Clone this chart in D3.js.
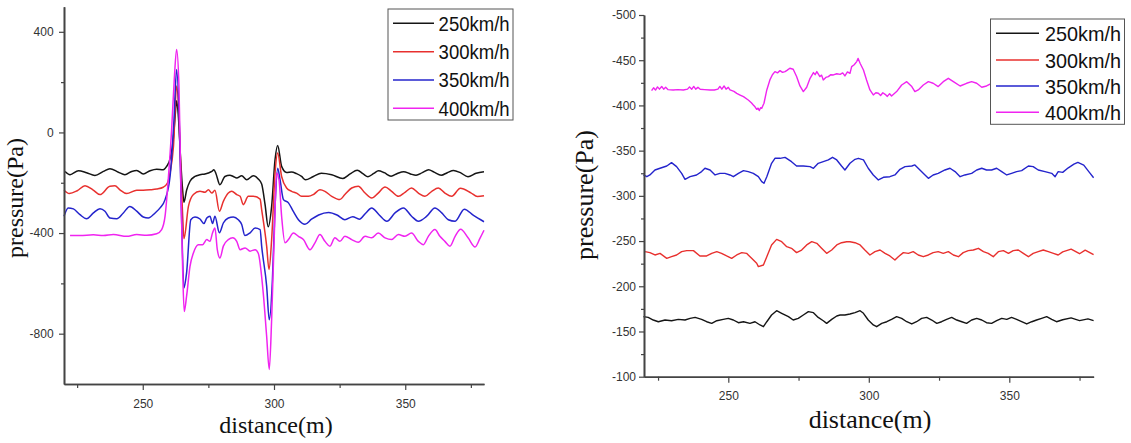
<!DOCTYPE html>
<html><head><meta charset="utf-8">
<script src="https://cdn.jsdelivr.net/npm/d3@7"></script>
<style>
html,body{margin:0;padding:0;background:#fff;}
svg{display:block;}
.tick text{font-family:"Liberation Sans",Arial,sans-serif;font-size:12px;fill:#333;}
</style></head><body>
<svg id="c" width="1131" height="443"></svg>
<script>
// ---------- shared ticks / labels ----------
const seriesNames = ["250km/h", "300km/h", "350km/h", "400km/h"];
const xMajorTicks = [250, 300, 350];
const xMinorTicks = [225, 275, 325, 375];
const leftYMajorTicks = [400, 0, -400, -800];
const leftYMinorTicks = [200, -200, -600];
const rightYMajorTicks = [-500, -450, -400, -350, -300, -250, -200, -150, -100];
const rightYMinorTicks = [-475, -425, -375, -325, -275, -225, -175, -125];
const xLabel = "distance(m)";
const yLabel = "pressure(Pa)";

// ---------- left chart data: [distance, pressure] ----------
const left250 = [[220.4,-155],[222.3,-168],[225.5,-152],[228.6,-160],[231.8,-171],[235.0,-155],[237.5,-144],[240.7,-158],[243.2,-168],[245.8,-155],[247.7,-151],[250.2,-165],[252.8,-152],[255.3,-146],[257.8,-148],[259.1,-135],[260.4,-105],[261.7,-20],[262.3,60],[262.9,126],[263.6,60],[264.4,-100],[265.2,-230],[265.7,-278],[266.7,-230],[268.0,-194],[269.9,-175],[271.8,-168],[273.7,-165],[275.0,-161],[276.3,-155],[277.1,-148],[277.9,-164],[279.4,-208],[281.3,-175],[283.2,-170],[284.5,-175],[285.8,-181],[287.7,-172],[289.6,-188],[292.1,-172],[294.0,-185],[295.3,-205],[296.6,-287],[297.8,-375],[299.1,-294],[300.4,-108],[301.4,-52],[302.9,-135],[304.8,-159],[306.7,-157],[308.6,-164],[310.5,-175],[312.0,-188],[315.0,-175],[318.0,-162],[322.0,-168],[326.2,-183],[329.0,-165],[331.7,-150],[334.0,-165],[335.8,-176],[338.0,-163],[339.8,-152],[342.0,-160],[344.6,-174],[347.0,-163],[349.4,-156],[352.0,-165],[354.1,-170],[356.5,-160],[358.9,-148],[361.0,-158],[363.7,-170],[366.0,-160],[368.4,-151],[371.0,-160],[373.9,-176],[377.0,-162],[380.0,-156]];
const left300 = [[220,-230],[222,-243],[225,-232],[228,-212],[231,-228],[233.7,-247],[237.5,-214],[239.4,-212],[241.3,-228],[243.9,-243],[247.7,-230],[250.2,-230],[253,-228],[255.3,-225],[257.8,-218],[259.4,-201],[260.4,-161],[261.7,-56],[262.9,185],[263.8,60],[264.5,-150],[265.2,-330],[265.7,-422],[267.4,-294],[269.3,-247],[271.8,-234],[273.7,-238],[275,-228],[276.3,-241],[277.5,-230],[279.2,-313],[280.7,-274],[282.6,-241],[283.9,-234],[285.8,-247],[287.1,-254],[288.3,-287],[290.2,-254],[292.1,-254],[294.7,-265],[295.3,-307],[297.2,-452],[298.1,-545],[299.1,-426],[300.4,-161],[301.4,-82],[302.9,-175],[304.8,-221],[306.7,-234],[308.6,-241],[310.5,-254],[313.1,-254],[315,-247],[317.5,-228],[319.4,-234],[322,-254],[325.1,-267],[327,-247],[329.6,-221],[332.1,-214],[334.7,-241],[337.2,-261],[339.7,-241],[342.3,-217],[344.8,-234],[347.4,-254],[349.9,-238],[352.4,-221],[355,-241],[357.5,-254],[360.1,-234],[362.6,-221],[365.1,-241],[367.7,-254],[371,-222],[375,-240],[377.5,-255],[380,-252]];
const left350 = [[220,-333],[221.6,-300],[223.6,-304],[226.1,-327],[228.6,-343],[231.2,-320],[233.7,-303],[235.6,-313],[237.5,-340],[240.1,-343],[242.6,-320],[245.1,-294],[247.7,-313],[250.2,-336],[252.1,-340],[254.7,-320],[256.6,-300],[258.5,-267],[260.4,-175],[261.9,50],[262.9,250],[263.9,50],[264.8,-347],[265.7,-618],[266.7,-558],[268.3,-347],[269.9,-336],[271.8,-344],[273.3,-362],[274.4,-340],[275.6,-333],[276.6,-362],[277.5,-333],[279.2,-399],[280.7,-360],[282.6,-340],[284.5,-336],[286.4,-347],[287.7,-366],[288.9,-410],[290.9,-399],[292.8,-380],[294.7,-386],[295.3,-452],[297.2,-611],[298.2,-745],[299.4,-585],[300.4,-294],[301.4,-142],[302.3,-188],[303.6,-267],[305.5,-280],[307.3,-313],[309.3,-347],[311.8,-365],[314.3,-345],[317,-328],[320.8,-318],[324,-328],[327,-347],[330,-335],[332.5,-345],[335,-320],[337.2,-300],[340,-327],[343,-353],[346.1,-320],[349.3,-300],[352.4,-333],[355,-353],[358.2,-333],[361.3,-300],[363.9,-320],[366.4,-347],[369,-353],[372.5,-305],[376,-330],[380,-355]];
const left400 = [[222.3,-410],[226.1,-410],[231.2,-407],[235,-410],[238.8,-406],[243.9,-413],[247.7,-406],[251.5,-409],[255.3,-403],[257.2,-386],[258.5,-333],[259.7,-188],[261,11],[262,209],[262.9,330],[263.8,183],[264.4,-148],[265.2,-545],[265.8,-712],[266.7,-651],[268,-532],[269.3,-479],[271.2,-446],[272.8,-446],[274.4,-426],[275.6,-433],[276.6,-399],[277.5,-380],[278.4,-466],[279.4,-499],[280.7,-452],[282.6,-426],[284.3,-419],[285.8,-433],[287.1,-466],[289,-459],[290.9,-472],[292.8,-466],[294,-480],[295.9,-638],[297.2,-810],[298.2,-942],[299.1,-743],[300.1,-413],[301,-161],[301.9,-188],[302.9,-333],[304.2,-439],[305.5,-426],[307.4,-400],[309.3,-413],[311.2,-426],[313.7,-466],[315.6,-439],[317.5,-406],[319.4,-433],[321.3,-452],[323.2,-419],[325.1,-433],[327,-413],[329.6,-426],[332.1,-437],[334.7,-413],[337.2,-419],[339.7,-400],[342.3,-419],[344.8,-426],[347.4,-406],[349.9,-413],[352.4,-400],[355,-433],[356.9,-446],[358.8,-413],[361.3,-386],[363.2,-413],[365.1,-433],[367,-452],[369,-413],[371.1,-385],[374,-420],[376.6,-455],[378.5,-420],[380,-389]];

// ---------- right chart data: [distance, pressure] ----------
const right250 = [[219.8,-166.4],[221.5,-165.6],[223.3,-162.7],[225.1,-160.8],[227.5,-162.7],[229.8,-161.9],[232.2,-163.4],[234.6,-162.7],[236.4,-164.5],[238.2,-165.6],[240.5,-163.4],[242.3,-160.8],[244.1,-159],[245.9,-161.9],[248.2,-163.4],[250,-164.5],[251.8,-162.7],[253.6,-159.7],[255.4,-160.8],[257.7,-159],[259.5,-160.8],[261.3,-157.2],[262.5,-155.3],[263.7,-160.8],[265.4,-168.2],[267.2,-173],[269,-170.1],[271.4,-166.4],[273.1,-162.7],[274.9,-164.5],[276.7,-168.2],[278.5,-171.9],[280.3,-170.8],[282,-165.6],[283.8,-161.9],[285,-159],[286.8,-163.4],[288.6,-167.1],[289.8,-168.2],[291.5,-168.2],[293.3,-169.3],[295.1,-170.8],[296.9,-173],[298.1,-170.1],[299.8,-162.7],[301.6,-157.2],[302.8,-155.3],[304.6,-159],[306.4,-160.8],[308.1,-163.4],[309.9,-166.4],[311.7,-164.5],[313.5,-160.8],[315.3,-158.3],[317.0,-160.8],[318.8,-164.5],[320.6,-165.6],[322.4,-162.7],[324.2,-159],[325.9,-160.8],[327.7,-163.4],[329.5,-165.6],[331.3,-162.7],[333.1,-160.8],[334.8,-159],[336.6,-162.7],[338.4,-164.5],[340.2,-162.7],[341.9,-159.7],[343.7,-159],[345.5,-161.9],[347.3,-164.5],[349.1,-163.4],[350.8,-165.6],[352.6,-163.4],[354.4,-160.8],[356.2,-158.3],[358.0,-160.8],[359.7,-162.7],[361.5,-164.5],[363.3,-166.4],[365.1,-163.4],[366.8,-160.8],[369,-163],[372,-165],[375,-162],[378,-164],[380,-162]];
const right300 = [[220.4,-238.3],[222.1,-237.2],[223.9,-234.6],[225.7,-236.4],[228.1,-230.9],[229.8,-232.7],[231.6,-234.6],[233.4,-238.3],[235.2,-239.4],[237.6,-239.4],[239.9,-233.5],[242.3,-233.5],[244.1,-236.4],[245.9,-238.3],[247.6,-236.4],[249.4,-233.5],[251.2,-230.9],[253,-234.6],[254.8,-237.2],[256.5,-236.4],[258.3,-230.9],[260.1,-225.4],[260.7,-221.7],[262.5,-223.5],[263.7,-232.7],[265.4,-245.7],[267.2,-251.9],[269,-249.3],[270.8,-243.8],[272.5,-242],[274.3,-237.2],[276.1,-240.1],[277.9,-245.7],[279.7,-249.3],[281.5,-247.5],[283.2,-242],[285,-236.4],[286.8,-240.1],[288.6,-245.7],[290.3,-248.2],[292.1,-249.3],[293.3,-249.3],[295.1,-248.2],[296.9,-245.7],[298.6,-240.1],[300.4,-234.6],[302.2,-238.3],[304,-240.1],[305.8,-236.4],[307.5,-233.5],[309.3,-229],[310.5,-232.7],[312.3,-237.2],[314.1,-236.4],[315.8,-238.3],[317.6,-234.6],[319.4,-232.7],[321.2,-234.6],[322.9,-237.2],[324.7,-238.3],[326.5,-236.4],[328.3,-238.3],[330.1,-234.6],[331.9,-232.7],[333.6,-237.2],[335.4,-239.4],[337.2,-240.1],[339,-242],[340.8,-238.3],[342.5,-236.4],[344.3,-232.7],[346.1,-238.3],[347.9,-239.4],[349.7,-236.4],[351.4,-239.4],[353.2,-240.1],[355,-236.4],[356.8,-232.7],[358.5,-236.4],[360.3,-238.3],[362.1,-240.1],[363.9,-238.3],[365.7,-236.4],[367.4,-234.6],[369,-238],[372,-241],[375,-236],[377,-240],[380,-235]];
const right350 = [[219.8,-323.1],[221,-321.2],[222.1,-323.1],[223.9,-328.6],[225.7,-330.5],[228.1,-333],[229.8,-336.7],[231.6,-332.3],[233.4,-324.9],[234.6,-318.3],[236.4,-321.2],[238.7,-323.1],[240.5,-326.8],[241.7,-330.5],[243.5,-328.6],[245.3,-323.1],[247,-324.9],[248.8,-324.9],[250.6,-323.1],[251.8,-321.2],[253.6,-324.9],[255.4,-327.9],[257.1,-326.8],[258.9,-324.9],[260.7,-321.2],[261.9,-315.7],[262.7,-313.9],[263.7,-321.2],[265.4,-336],[266.6,-341.5],[268.4,-341.5],[270.2,-342.6],[272.5,-337.8],[274.3,-333],[276.7,-333],[279.1,-332.3],[280.3,-330.5],[282,-336],[283.8,-337.8],[285.6,-339.7],[287.1,-342.6],[288.6,-339.7],[290.3,-333],[291.5,-328.6],[293.3,-336],[295.1,-340.4],[296.3,-341.5],[298.1,-339.7],[299.8,-330.5],[301.6,-323.1],[303.4,-317.6],[305.2,-320.5],[307.5,-321.2],[309.3,-323.1],[311.1,-329.4],[312.9,-332.3],[315.3,-333],[316.4,-334.2],[318.2,-328.6],[320,-323.1],[321.2,-319.4],[322.9,-323.1],[324.7,-324.9],[327.1,-328.6],[328.9,-330.5],[330.7,-326.8],[332.5,-321.2],[334.2,-323.1],[336.6,-324.9],[338.4,-328.6],[340.2,-330.5],[341.9,-328.6],[343.7,-328.6],[345.5,-330.5],[347.3,-326.8],[349.1,-323.1],[350.8,-324.9],[352.6,-326.8],[354.4,-327.9],[356.8,-333],[358.5,-332.3],[360.3,-328.6],[362.7,-326.8],[365.1,-324.9],[366.3,-321.2],[367.4,-326.8],[369,-326],[371,-331],[373,-335],[374.4,-337],[376.5,-334],[378.5,-326],[380,-320]];
const right400 = [[222.7,-416.4],[223.4,-419.5],[224.1,-417],[224.8,-420.5],[225.5,-418],[226.3,-421],[227,-418],[227.7,-420],[228.5,-417.5],[230.4,-417.1],[232,-417.5],[234,-417.1],[235.5,-418],[236.2,-420.5],[237,-418],[237.7,-421],[238.4,-418],[239.2,-420],[240,-417.9],[241.5,-417.5],[243.5,-417.1],[245,-417],[246.3,-418],[247,-421],[247.7,-418],[248.5,-421.5],[249.2,-418],[250,-420],[250.6,-417.1],[252,-415.5],[253,-413.4],[254.2,-411.5],[255.4,-409.7],[257.1,-406],[258.2,-403],[258.9,-400.5],[259.5,-398.5],[260.1,-395.7],[260.6,-397],[261,-394.3],[261.5,-397.5],[261.9,-396.8],[262.7,-402.4],[263.7,-417.1],[264.8,-428.2],[265.7,-434],[266.6,-437.4],[267.5,-436],[268.4,-438.5],[269.3,-436.5],[270.2,-437.4],[271,-439],[271.9,-441.1],[273.1,-440],[274.3,-431.9],[275.5,-421.5],[276.7,-415.3],[277.9,-420.1],[279.1,-430],[280.3,-436.3],[280.9,-434],[281.5,-437.4],[282.6,-431.9],[283.2,-433.5],[283.8,-428.2],[284.7,-431],[285.6,-431.9],[286.5,-434],[287.4,-433.7],[288.6,-435],[289.8,-434.4],[290.7,-436],[291.5,-432.6],[292.4,-437],[293.3,-435.5],[293.9,-442.9],[294.8,-445],[295.7,-448.5],[296.2,-452],[296.9,-446.6],[298.1,-439.2],[299.2,-428.2],[300.4,-417.1],[301.6,-411.6],[302.5,-414],[303.4,-413.4],[304.2,-411],[305,-414],[305.8,-412.3],[306.6,-410],[307.4,-413],[308.1,-410.5],[309.9,-415.3],[311.7,-422.6],[313.5,-426.3],[315.3,-420.8],[316.4,-415.3],[317.6,-417.1],[319.4,-422.6],[321.2,-426.3],[322.9,-424.5],[324.7,-420.8],[326.5,-426.3],[328.3,-430],[330.1,-426.3],[332.5,-421.5],[334.8,-424.5],[336.6,-426.3],[338.4,-424.5],[340.2,-420.1],[341.9,-421.5],[343.7,-424.5],[348,-425],[355,-422],[362,-426],[370,-424],[380,-425]];

const leftSeries = [left250, left300, left350, left400];
const rightSeries = [right250, right300, right350, right400];
const colors = ["#151515", "#e8302e", "#2424cc", "#f024f0"];

const svg = d3.select("#c");

function drawChart(o) {
  const x = d3.scaleLinear().domain([220, 380]).range(o.xr);
  const y = d3.scaleLinear().domain(o.yd).range(o.yr);
  const g = svg.append("g");
  const line = d3.line().x(d => x(d[0])).y(d => y(d[1])).curve(o.curve);

  o.series.forEach((s, i) => {
    g.append("path").datum(s).attr("d", line)
      .attr("fill", "none").attr("stroke", colors[i])
      .attr("stroke-width", o.lw).attr("stroke-linejoin", "round");
  });

  const fmt = d => String(d);
  const xa = g.append("g").attr("transform", `translate(0,${o.yr[0]})`);
  xa.call(d3.axisBottom(x).tickValues(xMajorTicks).tickSize(6).tickSizeOuter(0).tickPadding(o.xpad).tickFormat(fmt));
  const xm = g.append("g").attr("transform", `translate(0,${o.yr[0]})`);
  xm.call(d3.axisBottom(x).tickValues(xMinorTicks).tickSize(4).tickSizeOuter(0).tickFormat(""));
  const ya = g.append("g").attr("transform", `translate(${o.xr[0]},0)`);
  ya.call(d3.axisLeft(y).tickValues(o.yMajor).tickSize(5).tickSizeOuter(0).tickPadding(o.ypad).tickFormat(fmt));
  const ym = g.append("g").attr("transform", `translate(${o.xr[0]},0)`);
  ym.call(d3.axisLeft(y).tickValues(o.yMinor).tickSize(3).tickSizeOuter(0).tickFormat(""));
  [xa, xm, ya, ym].forEach(a => {
    a.selectAll("path.domain").attr("stroke", "#444").attr("stroke-width", 1.6);
    a.selectAll(".tick line").attr("stroke", "#444").attr("stroke-width", 1.2);
  });

  g.append("text").attr("x", o.xt[0]).attr("y", o.xt[1])
    .attr("text-anchor", "middle")
    .style("font-family", '"Liberation Serif","Times New Roman",serif')
    .style("font-size", o.tfs + "px").attr("fill", "#111").text(xLabel);
  g.append("text").attr("transform", `translate(${o.yt[0]},${o.yt[1]}) rotate(-90)`)
    .attr("text-anchor", "middle")
    .style("font-family", '"Liberation Serif","Times New Roman",serif')
    .style("font-size", o.tfs + "px").attr("fill", "#111").text(yLabel);

  // legend
  const L = o.legend;
  const lg = g.append("g");
  lg.append("rect").attr("x", L.x0).attr("y", L.y0).attr("width", L.x1 - L.x0).attr("height", L.y1 - L.y0)
    .attr("fill", "#fff").attr("stroke", "#555").attr("stroke-width", 1);
  seriesNames.forEach((nm, i) => {
    const ry = L.rows[i];
    lg.append("line").attr("x1", L.lx0).attr("x2", L.lx1).attr("y1", ry).attr("y2", ry)
      .attr("stroke", colors[i]).attr("stroke-width", 1.5);
    lg.append("text").attr("x", L.tx).attr("y", ry + L.fs * 0.36)
      .attr("textLength", L.tw).attr("lengthAdjust", "spacingAndGlyphs")
      .style("font-family", '"Liberation Sans",Arial,sans-serif')
      .style("font-size", L.fs + "px").attr("fill", "#111").text(nm);
  });
}

drawChart({
  series: leftSeries, xr: [64, 484], yd: [-1000, 500], yr: [384, 6.65],
  yMajor: leftYMajorTicks, yMinor: leftYMinorTicks, lw: 1.5, curve: d3.curveMonotoneX,
  xpad: 9.5, ypad: 5.4,
  xt: [276, 433], yt: [23, 198], tfs: 24,
  legend: {x0: 388, x1: 513, y0: 9, y1: 120, rows: [23.3, 51.7, 80, 108.3], lx0: 393, lx1: 434, tx: 438.6, tw: 71, fs: 20.5}
});
drawChart({
  series: rightSeries, xr: [644, 1093.6], yd: [-100, -500], yr: [376.7, 15],
  yMajor: rightYMajorTicks, yMinor: rightYMinorTicks, lw: 1.4, curve: d3.curveLinear,
  xpad: 8.3, ypad: 3,
  xt: [870, 428], yt: [592.5, 195], tfs: 26,
  legend: {x0: 990.5, x1: 1124.5, y0: 19, y1: 124.3, rows: [33.3, 60, 86, 112.3], lx0: 996, lx1: 1039, tx: 1045, tw: 76, fs: 21}
});
</script>
</body></html>
